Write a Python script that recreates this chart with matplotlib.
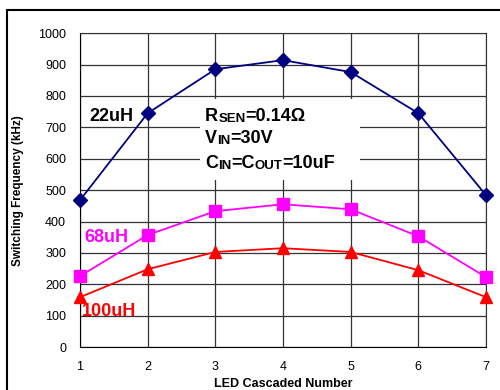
import matplotlib
matplotlib.use('Agg')
import matplotlib.pyplot as plt
from matplotlib.patches import Rectangle

plt.rcParams['font.family'] = ['Liberation Sans', 'DejaVu Sans']

# data
leds = [1, 2, 3, 4, 5, 6, 7]
f_22uh = [468, 745, 885, 914, 876, 745, 484]
f_68uh = [226, 357, 433, 455, 439, 353, 223]
f_100uh = [159, 248, 303, 315, 303, 245, 159]
yticks = [0, 100, 200, 300, 400, 500, 600, 700, 800, 900, 1000]

fig = plt.figure(figsize=(5, 3.9), dpi=100)
ax = fig.add_axes([0.16, 0.110, 0.812, 0.805])

# outer frame (cut off at right and bottom like the original)
fig.patches.append(Rectangle((0.014, -0.1), 1.1, 1.0744, transform=fig.transFigure,
                             fill=False, lw=1.5, ec='black'))

ax.plot(leds, f_22uh, color='#000080', marker='D', ms=7, lw=1.3, clip_on=False, zorder=5)
ax.plot(leds, f_68uh, color='#FF00FF', marker='s', ms=8, lw=1.3, clip_on=False, zorder=5)
ax.plot(leds, f_100uh, color='#FF0000', marker='^', ms=9, lw=1.3, clip_on=False, zorder=5)

ax.set_xlim(1, 7)
ax.set_ylim(0, 1000)
ax.set_xticks(leds)
ax.set_yticks(yticks)
ax.grid(True, color='#333333', lw=0.9)
ax.set_axisbelow(True)
ax.tick_params(length=0, labelsize=9, pad=10)
for s in ax.spines.values():
    s.set_color('#333333')
ax.spines['left'].set_color('black')
ax.spines['bottom'].set_color('black')

ax.set_ylabel('Switching Frequency (kHz)', fontsize=8.5, fontweight='bold')
ax.yaxis.set_label_coords(-0.138, 0.5)
ax.set_xlabel('LED Cascaded Number', fontsize=9, fontweight='bold')
ax.xaxis.set_label_coords(0.5, -0.100)

# white box behind the conditions text
ax.add_patch(Rectangle((0.296, 0.532), 0.394, 0.258, transform=ax.transAxes,
                       fc='white', ec='none', zorder=3))


def smallcaps(x, y, parts):
    t = ax.text(x, y, parts[0][0], fontsize=parts[0][1], fontweight='bold',
                transform=ax.transAxes, va='bottom', ha='left', zorder=6)
    for s, size in parts[1:]:
        t = ax.annotate(s, xy=(1, 0), xycoords=t, fontsize=size, fontweight='bold',
                        va='bottom', ha='left', zorder=6)


big, small = 13, 9.5
smallcaps(0.308, 0.707, [('R', big), ('SEN', small), ('=0.14Ω', big)])
smallcaps(0.308, 0.637, [('V', big), ('IN', small), ('=30V', big)])
smallcaps(0.308, 0.557, [('C', big), ('IN', small), ('=C', big), ('OUT', small), ('=10uF', big)])

ax.text(0.022, 0.720, '22uH', transform=ax.transAxes, fontsize=13, fontweight='bold',
        color='black', va='baseline', zorder=6)
ax.text(0.012, 0.334, '68uH', transform=ax.transAxes, fontsize=13, fontweight='bold',
        color='#FF00FF', va='baseline', zorder=6)
ax.text(0.005, 0.099, '100uH', transform=ax.transAxes, fontsize=13, fontweight='bold',
        color='#FF0000', va='baseline', zorder=6)

fig.savefig('out.png', dpi=100)
